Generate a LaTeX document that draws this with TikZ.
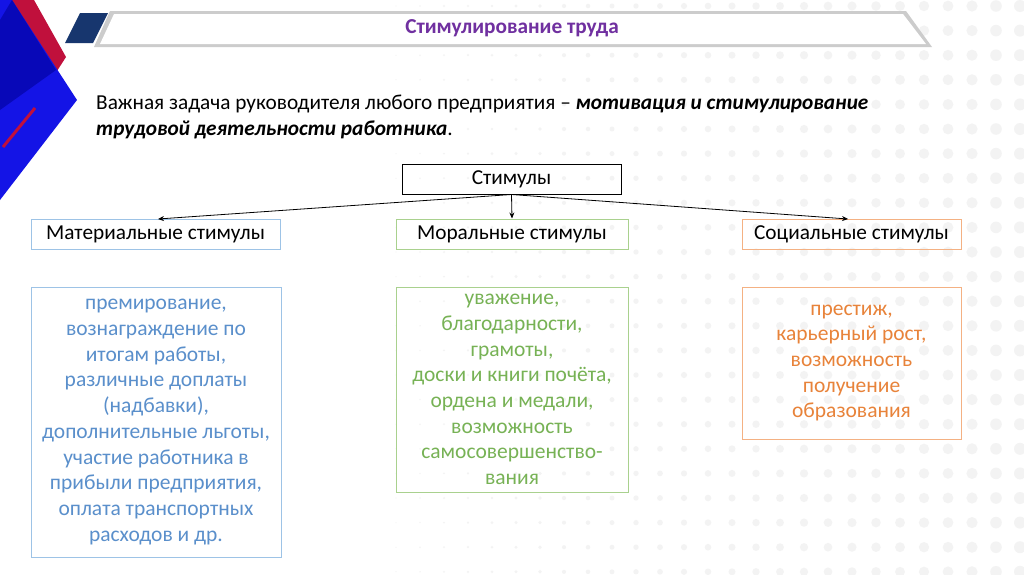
\documentclass[tikz,border=0pt]{standalone}
\usepackage{fontspec}
\usetikzlibrary{arrows.meta}
\setmainfont{Carlito}
\definecolor{bordblue}{HTML}{9DC3E6}
\definecolor{txtblue}{HTML}{5A8FCB}
\definecolor{bordgreen}{HTML}{A9D18E}
\definecolor{txtgreen}{HTML}{77B255}
\definecolor{bordorange}{HTML}{F4B183}
\definecolor{txtorange}{HTML}{E8833A}
\definecolor{titlepurple}{HTML}{7030A0}
\definecolor{decoblue}{HTML}{1414E6}
\definecolor{decodark}{HTML}{0808B8}
\definecolor{decored}{HTML}{C0103C}
\definecolor{deconavy}{HTML}{17366E}
\definecolor{dotgray}{HTML}{F3F3F3}
\begin{document}
\begin{tikzpicture}[x=1pt,y=-1pt,
  labelbox/.style={draw,line width=1pt,inner sep=0pt,minimum height=30pt,font=\fontsize{21.3}{25}\selectfont,text=black},
  listbox/.style={draw,line width=1pt,inner sep=0pt,align=center,font=\fontsize{21.5}{25.7}\selectfont},
  link/.style={-{Stealth[length=6pt,width=5pt]},line width=0.8pt}
]
\useasboundingbox[fill=white] (0,0) rectangle (1024,574);
% faint dots
\foreach \i in {0,...,26}{
  \foreach \j in {0,...,23}{
    \pgfmathsetmacro\xx{396+24*\i}
    \pgfmathsetmacro\yy{6+24.6*\j}
    \pgfmathsetmacro\rr{0.6+5.4*(\xx-396)/624}
    \fill[dotgray] (\xx,\yy) circle[radius=\rr];
  }
}
% left decoration
\fill[decored] (0,0) -- (34,0) -- (66,57) -- (57,71) -- cycle;
\fill[decoblue] (0,0) -- (12,0) -- (77,100) -- (0,200) -- cycle;
\fill[decodark] (0,20) -- (12,0) -- (56,70) -- (0,110) -- cycle;
\draw[decored,line width=3pt] (35,108) -- (3,147);
\fill[deconavy] (80,13) -- (108,13) -- (93,43) -- (65,43) -- cycle;
% title bar
\fill[gray!40] (110,11) -- (906,11) -- (932,47) -- (94,47) -- cycle;
\fill[white] (114,14) -- (903,14) -- (926,44) -- (100,44) -- cycle;
\node[font=\fontsize{21.3}{24}\selectfont\bfseries,text=titlepurple] (title) at (512,28) {Стимулирование труда};
% intro text
\node[anchor=west,align=left,inner sep=0pt,font=\fontsize{21.3}{26}\selectfont] (intro) at (96,117)
  {Важная задача руководителя любого предприятия – \textbf{\itshape мотивация и стимулирование}\\
   \textbf{\itshape трудовой деятельности работника}.};
% boxes
\node[labelbox,minimum width=219pt] (stim) at (511.5,179) {Стимулы};
\node[labelbox,draw=bordblue,minimum width=249pt] (mat) at (155.5,234) {Материальные стимулы};
\node[labelbox,draw=bordgreen,minimum width=232pt] (mor) at (512,234) {Моральные стимулы};
\node[labelbox,draw=bordorange,minimum width=219pt] (soc) at (851.5,234) {Социальные стимулы};
\coordinate (matin) at (158,219);
\coordinate (socin) at (848,219);
\draw[link] (stim.south) -- (matin);
\draw[link] (stim.south) -- (mor.north);
\draw[link] (stim.south) -- (socin);
\node[listbox,draw=bordblue,text=txtblue,minimum width=250pt,minimum height=270pt] (matlist) at (156,422)
  {премирование,\\ вознаграждение по\\ итогам работы,\\ различные доплаты\\ (надбавки),\\ дополнительные льготы,\\ участие работника в\\ прибыли предприятия,\\ оплата транспортных\\ расходов и др.};
\node[listbox,draw=bordgreen,text=txtgreen,minimum width=232pt,minimum height=205pt] (morlist) at (512,389.5)
  {уважение,\\ благодарности,\\ грамоты,\\ доски и книги почёта,\\ ордена и медали,\\ возможность\\ самосовершенство-\\ вания};
\node[listbox,draw=bordorange,text=txtorange,minimum width=219pt,minimum height=152pt] (soclist) at (851.5,363)
  {престиж,\\ карьерный рост,\\ возможность\\ получение\\ образования};
\end{tikzpicture}
\end{document}
